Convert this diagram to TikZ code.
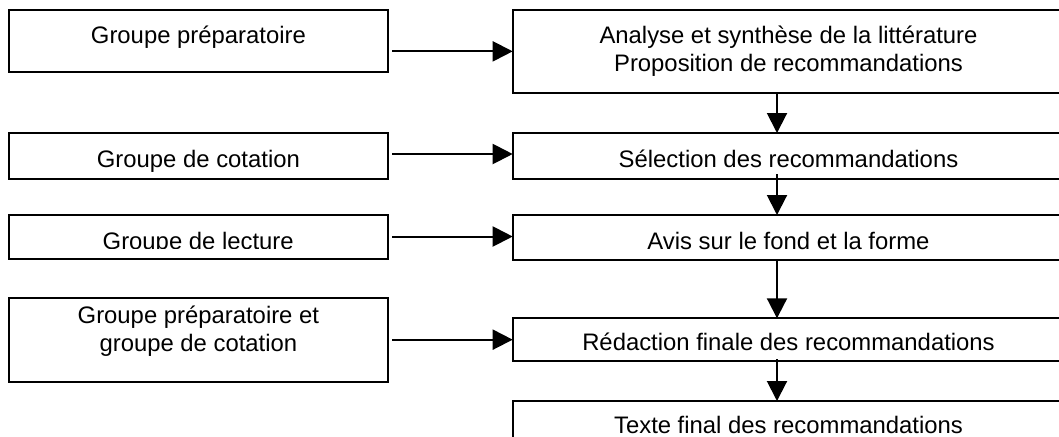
\documentclass[tikz,border=0pt]{standalone}
\usepackage{fontspec}
\setmainfont{Liberation Sans}
\usetikzlibrary{arrows.meta}
\begin{document}
\begin{tikzpicture}[x=0.5pt,y=-0.5pt,
  lbox/.style={draw=black, line width=1pt, anchor=north west, inner sep=0pt, outer sep=0pt, minimum width=189.9pt},
  rbox/.style={draw=black, line width=1pt, anchor=north west, inner sep=0pt, outer sep=0pt, minimum width=275.8pt},
  txt/.style={font=\fontsize{11.93}{13.85}\selectfont, inner sep=0pt, outer sep=0pt, anchor=base},
  arr/.style={line width=1pt, -{Triangle[length=10pt,width=10pt]}}]
\useasboundingbox (0,0) rectangle (1059,436);
\clip (0,0) rectangle (1059,436);
% left boxes
\node[lbox, minimum height=31.15pt] (L1) at (8.5,10) {};
\node[lbox, minimum height=23pt] (L2) at (8.5,133.3) {};
\node[lbox, minimum height=22pt] (L3) at (8.5,215) {};
\node[lbox, minimum height=42pt] (L4) at (8.5,298) {};
% right boxes
\node[rbox, minimum height=41.35pt] (R1) at (512.7,10) {};
\node[rbox, minimum height=23pt] (R2) at (512.7,133) {};
\node[rbox, minimum height=22.5pt] (R3) at (512.7,215) {};
\node[rbox, minimum height=21.35pt] (R4) at (512.7,318.3) {};
\node[rbox, minimum height=40pt] (R5) at (512.7,401) {};
% texts
\node[txt] (tL1) at (198.4,43) {Groupe préparatoire};
\node[txt] (tL2) at (198.4,167.5) {Groupe de cotation};
\begin{scope}
\clip (8.5,215) rectangle (388.4,248.7);
\node[txt] (tL3) at (198.2,249.7) {Groupe de lecture};
\end{scope}
\node[txt] (tL4a) at (198.4,323.5) {Groupe préparatoire et};
\node[txt] (tL4b) at (198.4,351) {groupe de cotation};
\node[txt] (tR1a) at (788.5,43.7) {Analyse et synthèse de la littérature};
\node[txt] (tR1b) at (788.5,71.3) {Proposition de recommandations};
\node[txt] (tR2) at (788.5,167.3) {Sélection des recommandations};
\node[txt] (tR3) at (788.5,249.2) {Avis sur le fond et la forme};
\node[txt] (tR4) at (788.5,350.5) {Rédaction finale des recommandations};
\node[txt] (tR5) at (788.5,433.8) {Texte final des recommandations};
% horizontal connectors
\draw[arr, shorten <=2pt] (L1.east |- R1.west) -- (R1.west);
\draw[arr, shorten <=2pt] (L2.east |- 0,154) -- (R2.west |- 0,154);
\draw[arr, shorten <=2pt] (L3.east |- 0,236.5) -- (R3.west |- 0,236.5);
\draw[arr, shorten <=2pt] (L4.east |- R4.west) -- (R4.west);
% vertical connectors
\coordinate (vx) at (777,0);
\draw[arr] (vx |- R1.south) -- (vx |- R2.north);
\draw[arr, shorten <=-2.5pt] (vx |- R2.south) -- (vx |- R3.north);
\draw[arr] (vx |- R3.south) -- (vx |- R4.north);
\draw[arr, shorten <=-1pt] (vx |- R4.south) -- (vx |- R5.north);
\end{tikzpicture}
\end{document}
